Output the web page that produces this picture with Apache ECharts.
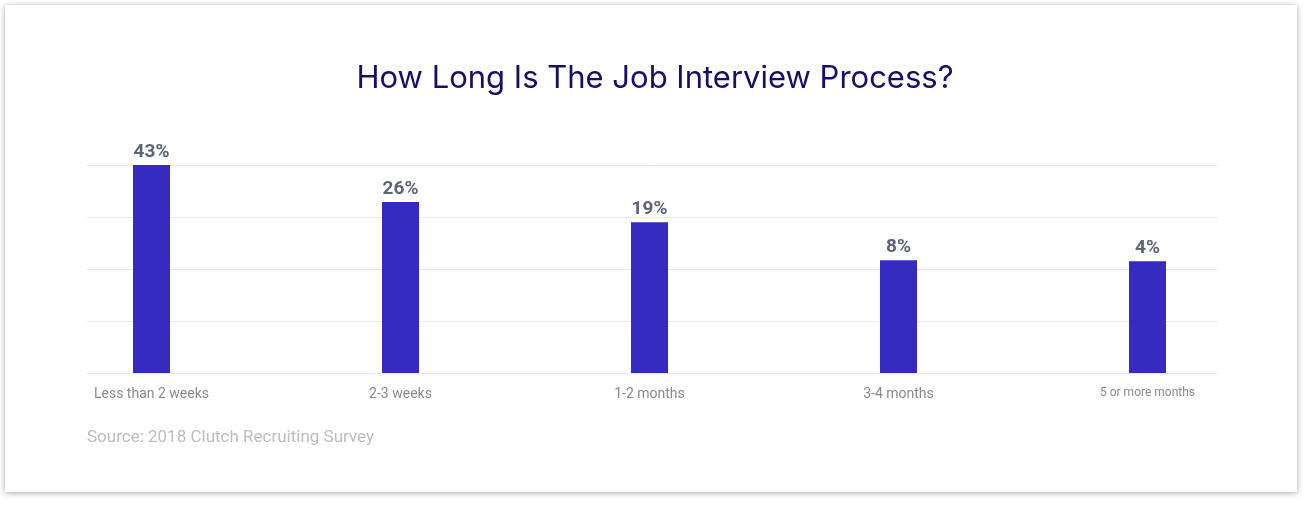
<!DOCTYPE html>
<html><head><meta charset="utf-8">
<script src="https://cdn.jsdelivr.net/npm/echarts@6/dist/echarts.min.js"></script>
<style>html,body{margin:0;background:#fff}#card{position:absolute;left:5px;top:5px;width:1292px;height:487px;background:#fff;box-shadow:0 1px 6px rgba(0,0,0,0.35)}#c{position:absolute;left:0;top:0;width:1310px;height:506px}</style>
</head><body><div id="card"></div><div id="c"></div>
<script>
const categories = ['Less than 2 weeks','2-3 weeks','1-2 months','3-4 months','5 or more months'];
const percentLabels = ['43%','26%','19%','8%','4%'];
// bar heights as drawn in the picture (axis units, gridlines at 1..4)
const barHeights = [4.0, 3.29, 2.9, 2.17, 2.15];
const chart = echarts.init(document.getElementById('c'));
chart.setOption({
  animation:false,
  title:{text:'How Long Is The Job Interview Process?',left:'center',top:58,textStyle:{color:'#150f6a',fontSize:31,fontWeight:'normal',fontFamily:'Inter'}},
  graphic:[{type:'text',left:87,top:429,style:{text:'Source: 2018 Clutch Recruiting Survey',fill:'#bdbdbd',fontSize:17,fontFamily:'Roboto'}}],
  grid:[{left:27,right:38,top:165,bottom:133},{left:87,right:92,top:165,bottom:133}],
  xAxis:[{type:'category',gridIndex:0,data:categories,axisLine:{show:false},axisTick:{show:false},
    axisLabel:{margin:14,fontSize:14,color:'#8a8a8a',fontFamily:'Roboto',
      formatter:(v)=>v==='5 or more months'?'{s|'+v+'}':v,rich:{s:{fontSize:12,color:'#8a8a8a',fontFamily:'Roboto'}}}},
    {type:'value',gridIndex:1,show:false,min:0,max:1}],
  yAxis:[{type:'value',gridIndex:0,min:0,max:4,interval:1,show:false},
    {type:'value',gridIndex:1,min:0,max:4,interval:1,axisLabel:{show:false},axisLine:{show:false},axisTick:{show:false},splitLine:{lineStyle:{color:'#e8e8e8'}}}],
  series:[{type:'bar',xAxisIndex:0,yAxisIndex:0,data:barHeights,barWidth:37,itemStyle:{color:'#352bc1'},
    label:{show:true,position:'top',distance:3,formatter:(p)=>percentLabels[p.dataIndex],color:'#5d6478',fontSize:19,fontWeight:'bold',fontFamily:'Roboto'}},
    {type:'line',xAxisIndex:1,yAxisIndex:1,data:[],silent:true}]
});
</script></body></html>
